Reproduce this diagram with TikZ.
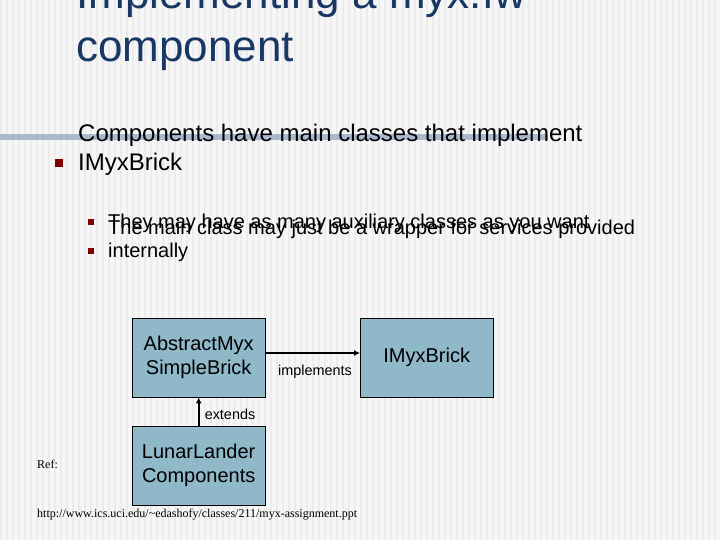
\documentclass[tikz,border=0pt]{standalone}
\usepackage{fontspec}
\setmainfont{Liberation Sans}
\newfontfamily\timesf{Liberation Serif}
\usetikzlibrary{arrows.meta}
\definecolor{boxfill}{RGB}{143,184,201}
\definecolor{bga}{RGB}{246,246,246}
\definecolor{bgb}{RGB}{236,236,236}
\definecolor{rulec}{RGB}{170,185,205}
\definecolor{titlec}{RGB}{25,55,100}
\definecolor{bulc}{RGB}{128,0,0}
\begin{document}
\begin{tikzpicture}[x=1pt,y=-1pt,
  box/.style={draw=black,fill=boxfill,minimum width=133pt,minimum height=79pt,inner sep=0pt,align=center,font=\fontsize{20}{24}\selectfont,anchor=north west},
  lbl/.style={font=\fontsize{14.4}{16}\selectfont,inner sep=0pt},
  bul/.style={fill=bulc,inner sep=0pt},
  txt/.style={anchor=base west,inner sep=0pt,align=left},
  conn/.style={line width=1.8pt,-{Latex[length=6pt,width=6pt]}}]
\useasboundingbox (0,0) rectangle (720,540);
\fill[bga] (0,0) rectangle (720,540);
\foreach \i in {0,6,...,714}{\fill[bgb] (\i,0) rectangle (\i+2,540);}
\fill[rulec] (0,134) rectangle (548,140);
\node[txt,text=titlec,font=\fontsize{44}{53}\selectfont] (title) at (76,62) {Implementing a myx.fw\\component};
\node[bul,minimum size=8pt] (b1) at (59,163) {};
\node[txt,font=\fontsize{24}{29}\selectfont] (t1) at (78,171) {Components have main classes that implement\\IMyxBrick};
\node[bul,minimum size=6pt] (b2) at (91,222) {};
\node[txt,font=\fontsize{20}{24}\selectfont] (t2) at (108,229) {They may have as many auxiliary classes as you want};
\node[bul,minimum size=6pt] (b3) at (91,251) {};
\node[txt,font=\fontsize{20}{24}\selectfont] (t3) at (108,258) {The main class may just be a wrapper for services provided\\internally};
\node[box] (a) at (132,318) {AbstractMyx\\SimpleBrick};
\node[box] (i) at (360,318) {IMyxBrick};
\node[box] (l) at (132,426) {LunarLander\\Components};
\draw[conn] (a.east |- 0,353) -- (i.west |- 0,353);
\node[lbl] (il) at (315,372) {implements};
\draw[conn] (l.north) -- (a.south);
\node[lbl] (el) at (230,414) {extends};
\node[txt,font=\timesf\fontsize{12}{14}\selectfont] (ref) at (37,468) {Ref:};
\node[txt,font=\timesf\fontsize{12}{14}\selectfont] (url) at (37,517) {http://www.ics.uci.edu/\textasciitilde edashofy/classes/211/myx-assignment.ppt};
\end{tikzpicture}
\end{document}
